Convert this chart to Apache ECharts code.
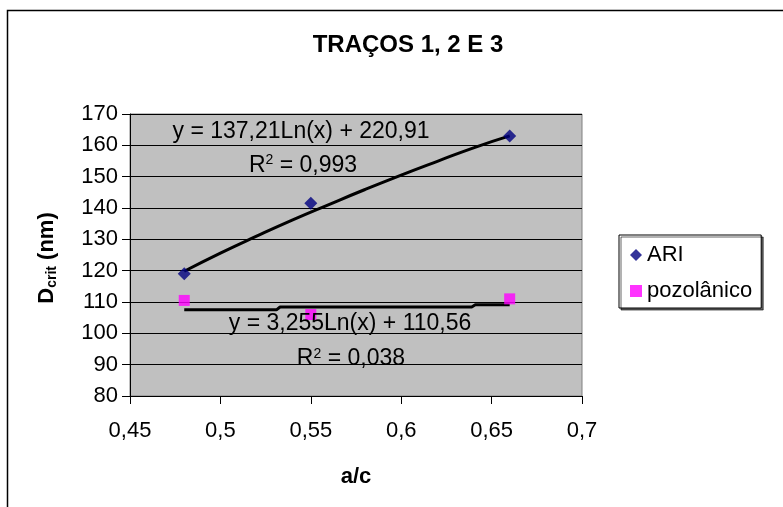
<!DOCTYPE html>
<html>
<head>
<meta charset="utf-8">
<script src="https://cdn.jsdelivr.net/npm/echarts@6/dist/echarts.min.js"></script>
<style>
html, body { margin: 0; padding: 0; background: #fff; }
#chart { width: 783px; height: 507px; }
</style>
</head>
<body>
<div id="chart"></div>
<script>
'use strict';

// pontos medidos
var ariPts = [[0.48, 119], [0.55, 141.5], [0.66, 163]];
var pozPts = [[0.48, 110.5], [0.55, 106], [0.66, 111]];

// linhas de tendencia
var ariTrend = [[0.48, 119.8], [0.50, 125.6], [0.52, 131.0], [0.54, 136.2], [0.56, 141.1],
    [0.58, 145.9], [0.60, 150.5], [0.62, 154.9], [0.64, 159.2], [0.66, 163.0]];
var pozTrend = [[0.48, 107.5], [0.531, 107.5], [0.533, 108.4], [0.639, 108.4], [0.641, 109.1], [0.66, 109.1]];

var ariEq = ['y = 137,21Ln(x) + 220,91', 'R', '2', ' = 0,993'];
var pozEq = ['y = 3,255Ln(x) + 110,56', 'R', '2', ' = 0,038'];

var chart = echarts.init(document.getElementById('chart'));
var font = 'Liberation Sans, Arial, sans-serif';

function eqLabel(coord, txt) {
    return {
        coord: coord, symbolSize: 0,
        label: { show: true, position: 'inside', formatter: txt, color: '#000', fontFamily: font, fontSize: 23 }
    };
}
function r2Label(coord, eq) {
    return {
        coord: coord, symbolSize: 0,
        label: {
            show: true, position: 'inside',
            formatter: '{n|' + eq[1] + '}{s|' + eq[2] + '}{n|' + eq[3] + '}',
            rich: {
                n: { fontFamily: font, fontSize: 23, color: '#000' },
                s: { fontFamily: font, fontSize: 14, color: '#000', verticalAlign: 'top', padding: [0, 0, 10, 0] }
            }
        }
    };
}

chart.setOption({
    animation: false,
    backgroundColor: '#fff',
    title: {
        text: 'TRAÇOS 1, 2 E 3', left: 403, top: 28, textAlign: 'center',
        textStyle: { fontFamily: font, fontSize: 24, fontWeight: 'bold', color: '#000' }
    },
    graphic: [
        { type: 'rect', shape: { x: 7.5, y: 10.5, width: 900, height: 600 }, style: { fill: null, stroke: '#000', lineWidth: 1.5 }, silent: true },
        {
            type: 'text', x: 47, y: 258, rotation: Math.PI / 2,
            style: {
                text: '{a|D}{b|crit}{a| (nm)}', align: 'center', verticalAlign: 'middle',
                rich: {
                    a: { fontFamily: font, fontSize: 22, fontWeight: 'bold', fill: '#000' },
                    b: { fontFamily: font, fontSize: 14, fontWeight: 'bold', fill: '#000', verticalAlign: 'bottom', padding: [10, 0, 0, 0] }
                }
            }
        }
    ],
    legend: {
        orient: 'vertical', left: 619, top: 235,
        padding: [9, 9, 6, 11], itemGap: 14, itemWidth: 12, itemHeight: 12,
        borderColor: '#000', borderWidth: 1, backgroundColor: '#fff',
        shadowColor: 'rgba(0,0,0,0.6)', shadowOffsetX: 2, shadowOffsetY: 2,
        textStyle: { fontFamily: font, fontSize: 22, color: '#000' },
        data: [{ name: 'ARI', icon: 'diamond' }, { name: 'pozolânico', icon: 'rect' }]
    },
    grid: {
        left: 130, top: 114, right: 201, bottom: 111,
        show: true, backgroundColor: '#c0c0c0', borderColor: '#808080', borderWidth: 1
    },
    xAxis: {
        type: 'value', min: 0.45, max: 0.7, interval: 0.05,
        name: 'a/c', nameLocation: 'middle', nameGap: 81,
        nameTextStyle: { fontFamily: font, fontSize: 22, fontWeight: 'bold', color: '#000', verticalAlign: 'middle' },
        axisLine: { onZero: false, lineStyle: { color: '#000' } },
        axisTick: { show: true, length: 8, lineStyle: { color: '#000' } },
        axisLabel: {
            fontFamily: font, fontSize: 22, color: '#000', margin: 24,
            formatter: function (v) { return (Math.round(v * 100) / 100).toString().replace('.', ','); }
        },
        splitLine: { show: false }
    },
    yAxis: {
        type: 'value', min: 80, max: 170, interval: 10,
        axisLine: { show: true, onZero: false, lineStyle: { color: '#000' } },
        axisTick: { show: true, length: 8, lineStyle: { color: '#000' } },
        axisLabel: { fontFamily: font, fontSize: 22, color: '#000', margin: 12 },
        splitLine: { show: true, lineStyle: { color: '#000', width: 1 } }
    },
    series: [
        {
            name: 'ARI trend', type: 'line', data: ariTrend, smooth: true, symbol: 'none',
            lineStyle: { color: '#000', width: 3 }, z: 3,
            markPoint: { data: [eqLabel([0.5446, 164.3], ariEq[0]), r2Label([0.5457, 153.6], ariEq)] }
        },
        {
            name: 'pozolânico trend', type: 'line', data: pozTrend, symbol: 'none',
            lineStyle: { color: '#000', width: 3 }, z: 3,
            markPoint: { data: [eqLabel([0.5717, 103.2], pozEq[0]), r2Label([0.5722, 91.8], pozEq)] }
        },
        {
            name: 'ARI', type: 'scatter', data: ariPts, symbol: 'diamond', symbolSize: 13,
            itemStyle: { color: '#000080' }, z: 4
        },
        {
            name: 'pozolânico', type: 'scatter', data: pozPts, symbol: 'rect', symbolSize: 11,
            itemStyle: { color: '#ff00ff' }, z: 4
        }
    ]
});
</script>
</body>
</html>
